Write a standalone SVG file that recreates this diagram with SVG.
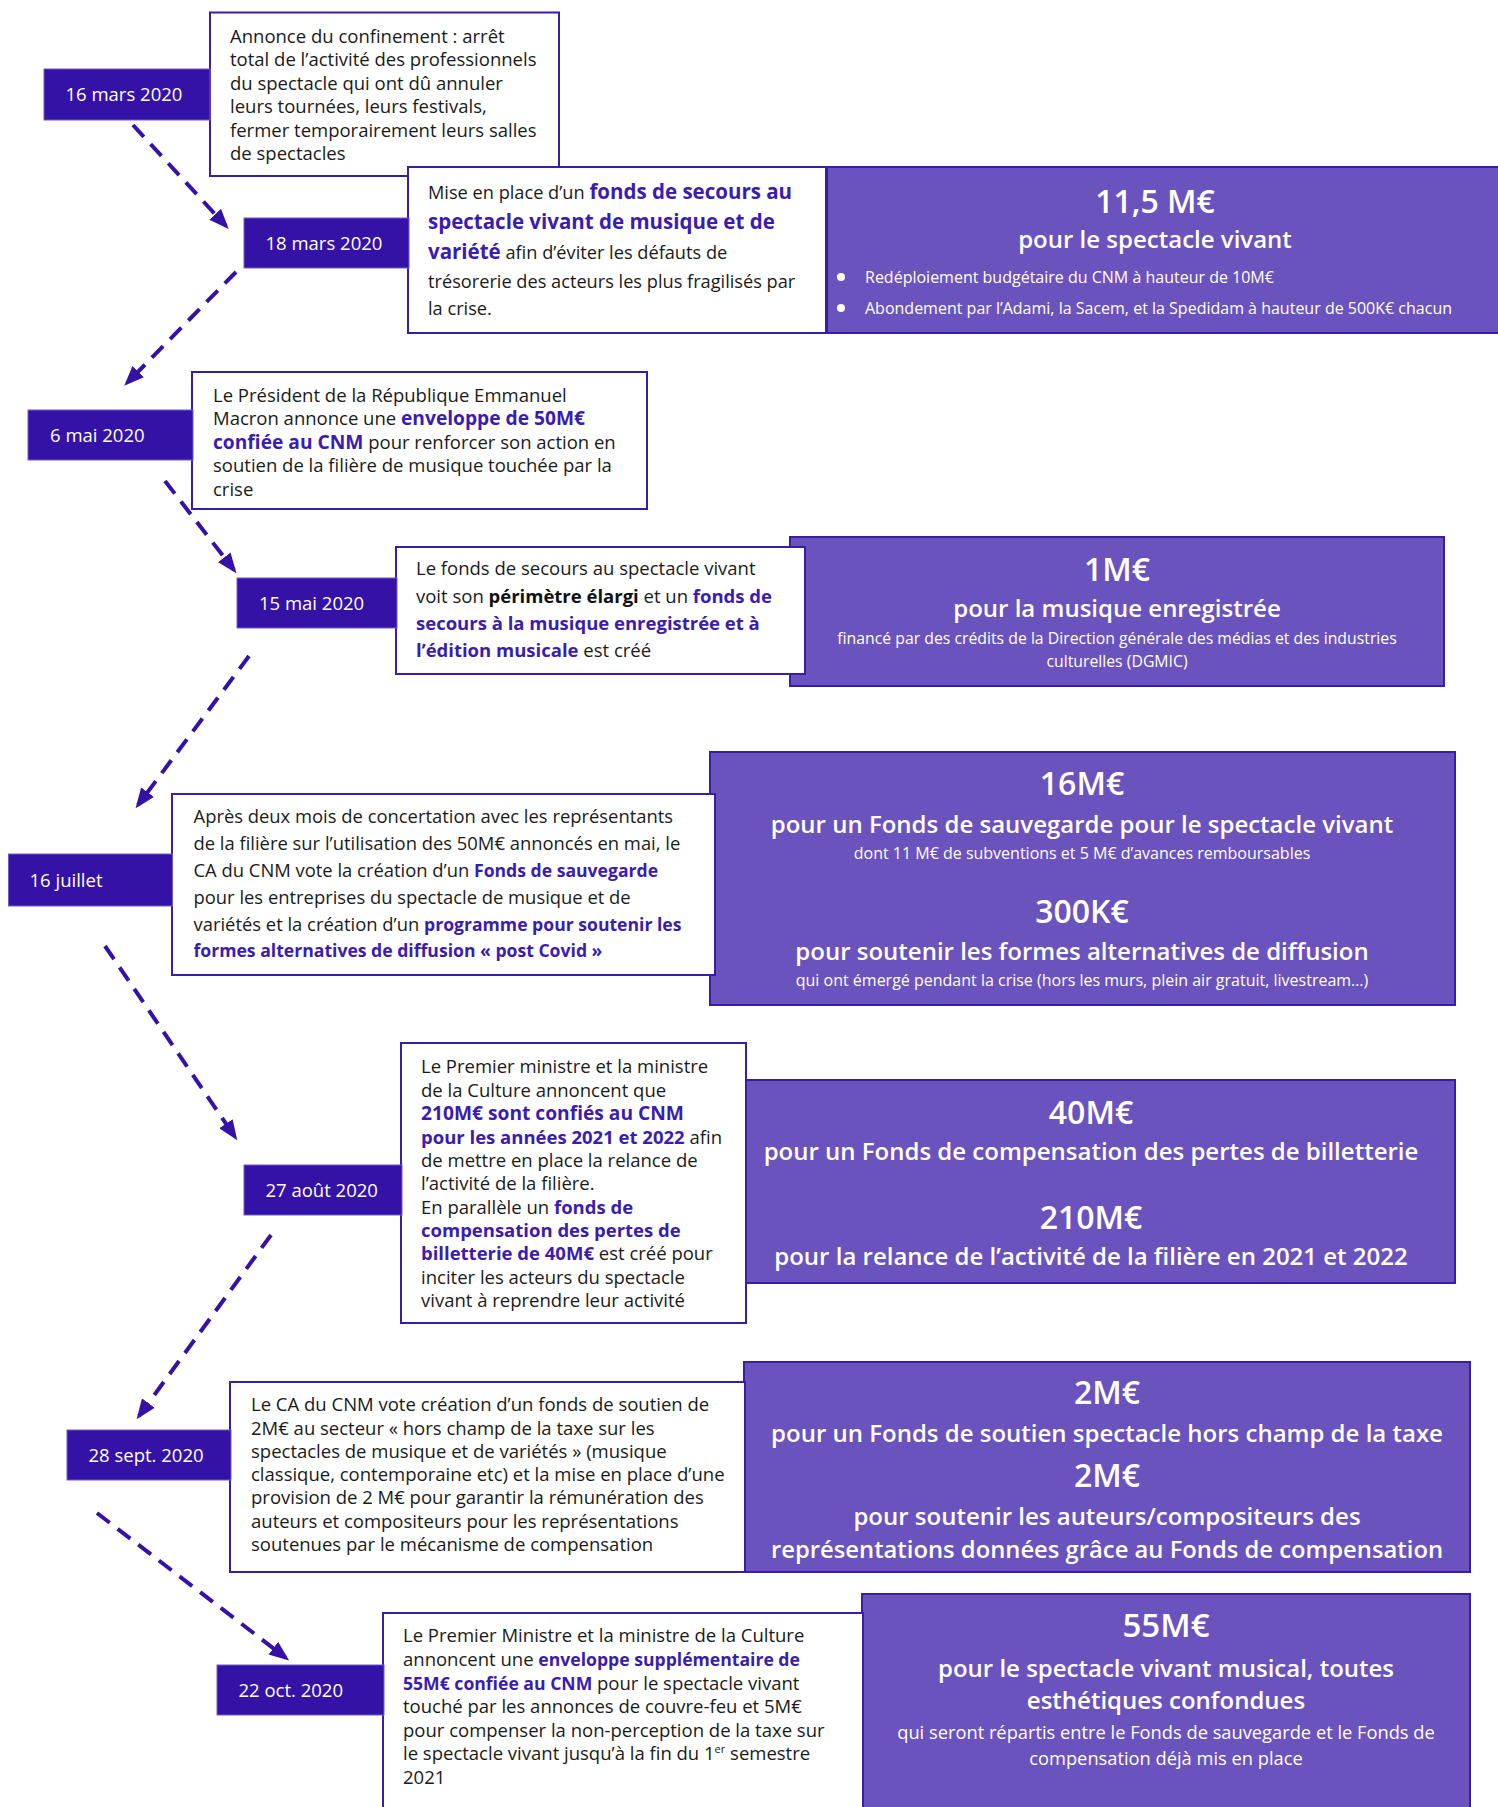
<svg xmlns="http://www.w3.org/2000/svg" width="1498" height="1807" viewBox="0 0 1498 1807">
<defs>
<marker id="arr" viewBox="0 0 20 16" refX="16" refY="8" markerWidth="20" markerHeight="16" markerUnits="userSpaceOnUse" orient="auto">
<path d="M0,0 L20,8 L0,16 z" fill="#3512a6"/>
</marker>
<style>
.date{fill:#3512a6;stroke:#6e5ad0;stroke-width:1}
.dt{font-family:"Open Sans","Noto Sans",sans-serif;font-size:18.5px;fill:#ffffff}
.tb{fill:#ffffff;stroke:#3a1ca8;stroke-width:2}
.pb{fill:#6b53bd;stroke:#3a1ca8;stroke-width:2}
.body{font-family:"Open Sans","Noto Sans",sans-serif;font-size:18.5px;fill:#1a1a1a}
.hl{font-weight:700;fill:#3a1cb0}
.bk{font-weight:700;fill:#111111}
.amt{font-family:"Open Sans","Noto Sans",sans-serif;font-size:32px;font-weight:600;fill:#ffffff;text-anchor:middle}
.sub{font-family:"Open Sans","Noto Sans",sans-serif;font-size:24px;font-weight:600;fill:#ffffff;text-anchor:middle}
.sm{font-family:"Open Sans","Noto Sans",sans-serif;font-size:16px;fill:#ffffff;text-anchor:middle}
.conn{fill:none;stroke:#3512a6;stroke-width:4;stroke-dasharray:16 10}
</style>
</defs>
<rect width="1498" height="1807" fill="#ffffff"/>

<g id="connectors">
<line class="conn" x1="133" y1="125" x2="226" y2="226" marker-end="url(#arr)"/>
<line class="conn" x1="236" y1="272" x2="127" y2="383" marker-end="url(#arr)"/>
<line class="conn" x1="165" y1="481" x2="234" y2="570" marker-end="url(#arr)"/>
<line class="conn" x1="249" y1="656" x2="138" y2="805" marker-end="url(#arr)"/>
<line class="conn" x1="105" y1="946" x2="235" y2="1137" marker-end="url(#arr)"/>
<line class="conn" x1="271" y1="1235" x2="139" y2="1416" marker-end="url(#arr)"/>
<line class="conn" x1="97" y1="1513" x2="286" y2="1658" marker-end="url(#arr)"/>
</g>

<!-- Event 1 -->
<g id="text-16mars">
<rect class="tb" x="210" y="12.5" width="349" height="163.5"/>
<text class="body" x="230" y="42.5">Annonce du confinement : arrêt</text>
<text class="body" x="230" y="66">total de l’activité des professionnels</text>
<text class="body" x="230" y="89.5">du spectacle qui ont dû annuler</text>
<text class="body" x="230" y="113">leurs tournées, leurs festivals,</text>
<text class="body" x="230" y="136.5">fermer temporairement leurs salles</text>
<text class="body" x="230" y="160">de spectacles</text>
</g>
<g id="date-16mars">
<rect class="date" x="44" y="69" width="166" height="51"/>
<text class="dt" x="65.5" y="100.5">16 mars 2020</text>
</g>

<!-- Event 2 -->
<g id="amount-11-5M">
<rect class="pb" x="827" y="167" width="690" height="166"/>
<text class="amt" x="1155" y="213">11,5 M€</text>
<text class="sub" x="1155" y="248">pour le spectacle vivant</text>
<circle cx="841" cy="277" r="4" fill="#ffffff"/>
<circle cx="841" cy="308" r="4" fill="#ffffff"/>
<text class="sm" x="865" y="283" style="text-anchor:start">Redéploiement budgétaire du CNM à hauteur de 10M€</text>
<text class="sm" x="865" y="314" style="text-anchor:start">Abondement par l’Adami, la Sacem, et la Spedidam à hauteur de 500K€ chacun</text>
</g>
<g id="text-18mars">
<rect class="tb" x="408" y="167" width="418" height="166"/>
<text class="body" x="428" y="199" style="font-size:18.2px">Mise en place d’un <tspan class="hl" style="font-size:20.5px">fonds de secours au</tspan></text>
<text class="body" x="428" y="229"><tspan class="hl" style="font-size:20.5px">spectacle vivant de musique et de</tspan></text>
<text class="body" x="428" y="259" style="font-size:18.2px"><tspan class="hl" style="font-size:20.5px">variété</tspan> afin d’éviter les défauts de</text>
<text class="body" x="428" y="288" style="font-size:18.2px">trésorerie des acteurs les plus fragilisés par</text>
<text class="body" x="428" y="315" style="font-size:18.2px">la crise.</text>
</g>
<g id="date-18mars">
<rect class="date" x="244" y="218" width="165" height="50"/>
<text class="dt" x="265.5" y="249.5">18 mars 2020</text>
</g>

<!-- Event 3 -->
<g id="text-6mai">
<rect class="tb" x="192" y="372" width="455" height="137"/>
<text class="body" x="213" y="401.5">Le Président de la République Emmanuel</text>
<text class="body" x="213" y="425">Macron annonce une <tspan class="hl" style="font-size:19.2px">enveloppe de 50M€</tspan></text>
<text class="body" x="213" y="448.5"><tspan class="hl" style="font-size:19.2px">confiée au CNM</tspan> pour renforcer son action en</text>
<text class="body" x="213" y="472">soutien de la filière de musique touchée par la</text>
<text class="body" x="213" y="495.5">crise</text>
</g>
<g id="date-6mai">
<rect class="date" x="28" y="410" width="165" height="50"/>
<text class="dt" x="50" y="441.5">6 mai 2020</text>
</g>

<!-- Event 4 -->
<g id="amount-1M">
<rect class="pb" x="790" y="537" width="654" height="149"/>
<text class="amt" x="1117" y="581">1M€</text>
<text class="sub" x="1117" y="617">pour la musique enregistrée</text>
<text class="sm" x="1117" y="644" style="font-size:15.8px">financé par des crédits de la Direction générale des médias et des industries</text>
<text class="sm" x="1117" y="667" style="font-size:15.8px">culturelles (DGMIC)</text>
</g>
<g id="text-15mai">
<rect class="tb" x="396" y="547" width="409" height="127"/>
<text class="body" x="416" y="575">Le fonds de secours au spectacle vivant</text>
<text class="body" x="416" y="602.5">voit son <tspan class="bk">périmètre élargi</tspan> et un <tspan class="hl">fonds de</tspan></text>
<text class="body" x="416" y="630"><tspan class="hl">secours à la musique enregistrée et à</tspan></text>
<text class="body" x="416" y="657"><tspan class="hl">l’édition musicale</tspan> est créé</text>
</g>
<g id="date-15mai">
<rect class="date" x="237" y="578" width="160" height="50"/>
<text class="dt" x="259" y="609.5">15 mai 2020</text>
</g>

<!-- Event 5 -->
<g id="amount-16M">
<rect class="pb" x="710" y="752" width="745" height="253"/>
<text class="amt" x="1082" y="795">16M€</text>
<text class="sub" x="1082" y="833">pour un Fonds de sauvegarde pour le spectacle vivant</text>
<text class="sm" x="1082" y="859">dont 11 M€ de subventions et 5 M€ d’avances remboursables</text>
<text class="amt" x="1082" y="923">300K€</text>
<text class="sub" x="1082" y="960">pour soutenir les formes alternatives de diffusion</text>
<text class="sm" x="1082" y="986">qui ont émergé pendant la crise (hors les murs, plein air gratuit, livestream…)</text>
</g>
<g id="text-16juillet">
<rect class="tb" x="172" y="794" width="543" height="181"/>
<text class="body" x="193.5" y="823" style="font-size:18.4px">Après deux mois de concertation avec les représentants</text>
<text class="body" x="193.5" y="850" style="font-size:18.4px">de la filière sur l’utilisation des 50M€ annoncés en mai, le</text>
<text class="body" x="193.5" y="877" style="font-size:18.4px">CA du CNM vote la création d’un <tspan class="hl" style="font-size:17.6px">Fonds de sauvegarde</tspan></text>
<text class="body" x="193.5" y="903.5" style="font-size:18.4px">pour les entreprises du spectacle de musique et de</text>
<text class="body" x="193.5" y="930.5" style="font-size:18.4px">variétés et la création d’un <tspan class="hl" style="font-size:17.6px">programme pour soutenir les</tspan></text>
<text class="body" x="193.5" y="957" style="font-size:18.4px"><tspan class="hl" style="font-size:17.6px">formes alternatives de diffusion « post Covid »</tspan></text>
</g>
<g id="date-16juillet">
<rect class="date" x="8.5" y="854" width="164" height="52"/>
<text class="dt" x="29.5" y="886.5">16 juillet</text>
</g>

<!-- Event 6 -->
<g id="amount-40M-210M">
<rect class="pb" x="745" y="1080" width="710" height="203"/>
<text class="amt" x="1091" y="1124">40M€</text>
<text class="sub" x="1091" y="1160">pour un Fonds de compensation des pertes de billetterie</text>
<text class="amt" x="1091" y="1229">210M€</text>
<text class="sub" x="1091" y="1265">pour la relance de l’activité de la filière en 2021 et 2022</text>
</g>
<g id="text-27aout">
<rect class="tb" x="401" y="1043" width="345" height="280"/>
<text class="body" x="421" y="1073">Le Premier ministre et la ministre</text>
<text class="body" x="421" y="1096.5">de la Culture annoncent que</text>
<text class="body" x="421" y="1120"><tspan class="hl" style="font-size:19.2px">210M€ sont confiés au CNM</tspan></text>
<text class="body" x="421" y="1143.5"><tspan class="hl">pour les années 2021 et 2022</tspan> afin</text>
<text class="body" x="421" y="1166.5">de mettre en place la relance de</text>
<text class="body" x="421" y="1190">l’activité de la filière.</text>
<text class="body" x="421" y="1213.5">En parallèle un <tspan class="hl">fonds de</tspan></text>
<text class="body" x="421" y="1236.5"><tspan class="hl">compensation des pertes de</tspan></text>
<text class="body" x="421" y="1260"><tspan class="hl">billetterie de 40M€</tspan> est créé pour</text>
<text class="body" x="421" y="1283.5">inciter les acteurs du spectacle</text>
<text class="body" x="421" y="1307">vivant à reprendre leur activité</text>
</g>
<g id="date-27aout">
<rect class="date" x="244" y="1165" width="158" height="50"/>
<text class="dt" x="265.5" y="1196.5">27 août 2020</text>
</g>

<!-- Event 7 -->
<g id="amount-2M-2M">
<rect class="pb" x="744" y="1362" width="726" height="210"/>
<text class="amt" x="1107" y="1404">2M€</text>
<text class="sub" x="1107" y="1442">pour un Fonds de soutien spectacle hors champ de la taxe</text>
<text class="amt" x="1107" y="1487">2M€</text>
<text class="sub" x="1107" y="1525">pour soutenir les auteurs/compositeurs des</text>
<text class="sub" x="1107" y="1558" style="font-size:23.8px">représentations données grâce au Fonds de compensation</text>
</g>
<g id="text-28sept">
<rect class="tb" x="230" y="1382" width="515" height="190"/>
<text class="body" x="251" y="1411">Le CA du CNM vote création d’un fonds de soutien de</text>
<text class="body" x="251" y="1434.5">2M€ au secteur « hors champ de la taxe sur les</text>
<text class="body" x="251" y="1458">spectacles de musique et de variétés » (musique</text>
<text class="body" x="251" y="1481">classique, contemporaine etc) et la mise en place d’une</text>
<text class="body" x="251" y="1504">provision de 2 M€ pour garantir la rémunération des</text>
<text class="body" x="251" y="1527.5">auteurs et compositeurs pour les représentations</text>
<text class="body" x="251" y="1551">soutenues par le mécanisme de compensation</text>
</g>
<g id="date-28sept">
<rect class="date" x="67" y="1430" width="164" height="50"/>
<text class="dt" x="88.5" y="1461.5">28 sept. 2020</text>
</g>

<!-- Event 8 -->
<g id="amount-55M">
<rect class="pb" x="862" y="1594" width="608" height="230"/>
<text class="amt" x="1166" y="1637" style="font-size:33px">55M€</text>
<text class="sub" x="1166" y="1677">pour le spectacle vivant musical, toutes</text>
<text class="sub" x="1166" y="1709">esthétiques confondues</text>
<text class="sm" x="1166" y="1739" style="font-size:18.3px">qui seront répartis entre le Fonds de sauvegarde et le Fonds de</text>
<text class="sm" x="1166" y="1765" style="font-size:18.3px">compensation déjà mis en place</text>
</g>
<g id="text-22oct">
<rect class="tb" x="383" y="1613" width="480" height="200"/>
<text class="body" x="403" y="1642">Le Premier Ministre et la ministre de la Culture</text>
<text class="body" x="403" y="1666">annoncent une <tspan class="hl" style="font-size:17.6px">enveloppe supplémentaire de</tspan></text>
<text class="body" x="403" y="1689.5"><tspan class="hl" style="font-size:17.6px">55M€ confiée au CNM</tspan> pour le spectacle vivant</text>
<text class="body" x="403" y="1713">touché par les annonces de couvre-feu et 5M€</text>
<text class="body" x="403" y="1736.5">pour compenser la non-perception de la taxe sur</text>
<text class="body" x="403" y="1760">le spectacle vivant jusqu’à la fin du 1<tspan dy="-7" style="font-size:11px">er</tspan><tspan dy="7"> semestre</tspan></text>
<text class="body" x="403" y="1784">2021</text>
</g>
<g id="date-22oct">
<rect class="date" x="217" y="1665" width="167" height="50"/>
<text class="dt" x="238.5" y="1696.5">22 oct. 2020</text>
</g>
</svg>
